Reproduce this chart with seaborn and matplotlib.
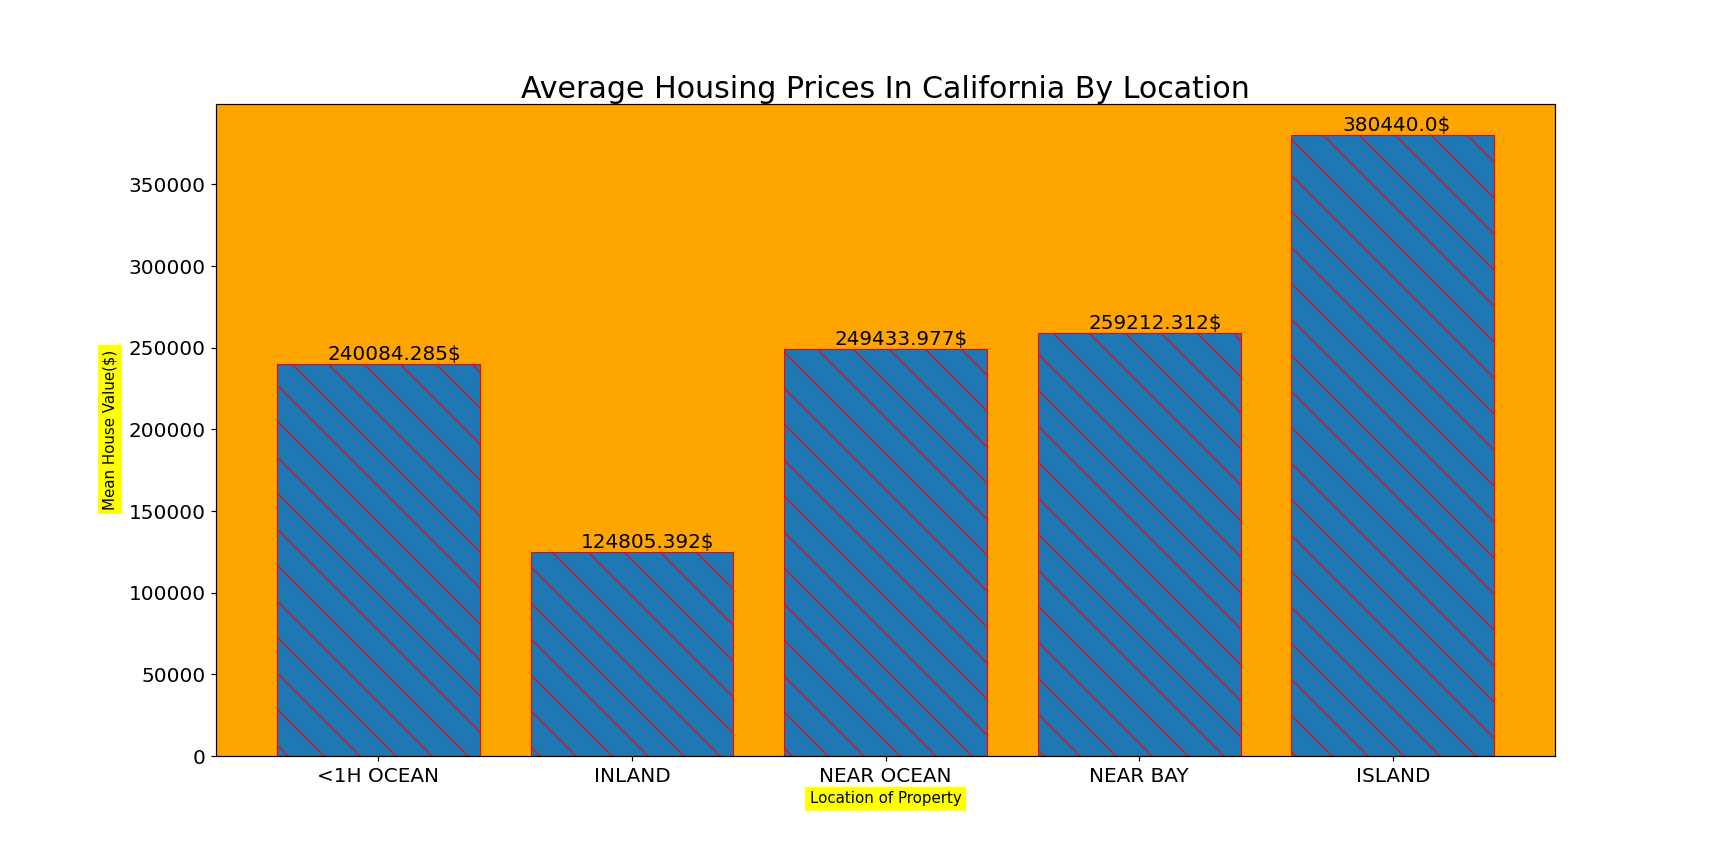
import matplotlib
matplotlib.use("Agg")
import matplotlib.pyplot as plt
import seaborn as sns
import pandas as pd

categories = ["<1H OCEAN", "INLAND", "NEAR OCEAN", "NEAR BAY", "ISLAND"]
mean_values = [240084.285, 124805.392, 249433.977, 259212.312, 380440.0]
value_labels = [f"{v}$" for v in mean_values]

plt.rcParams["hatch.color"] = "red"
plt.rcParams["hatch.linewidth"] = 0.75

df = pd.DataFrame({"location": categories, "value": mean_values})

fig, ax = plt.subplots(figsize=(16, 8), dpi=108)
fig.subplots_adjust(left=0.125, right=0.9, top=0.88, bottom=0.125)
ax.set_facecolor("orange")

sns.barplot(data=df, x="location", y="value", color="#1f77b4", saturation=1,
            edgecolor="red", linewidth=0.75, hatch="\\", width=0.8, ax=ax)
for p in ax.patches:
    p.set_hatch("\\")
    p.set_edgecolor("red")

for i, (v, lab) in enumerate(zip(mean_values, value_labels)):
    ax.text(i - 0.2, v, lab, ha="left", va="bottom", fontsize=13.33)

ax.set_xlim(-0.64, 4.64)
ax.set_ylim(0, max(mean_values) * 1.05)

ax.set_title("Average Housing Prices In California By Location", fontsize=20, pad=4)
box = dict(boxstyle="square,pad=0.3", facecolor="yellow", edgecolor="none")
ax.set_xlabel("Location of Property", fontsize=10, bbox=box)
ax.set_ylabel("Mean House Value($)", fontsize=10, bbox=box, labelpad=7)
ax.tick_params(labelsize=13.33)

fig.savefig("out.png", dpi=108)
